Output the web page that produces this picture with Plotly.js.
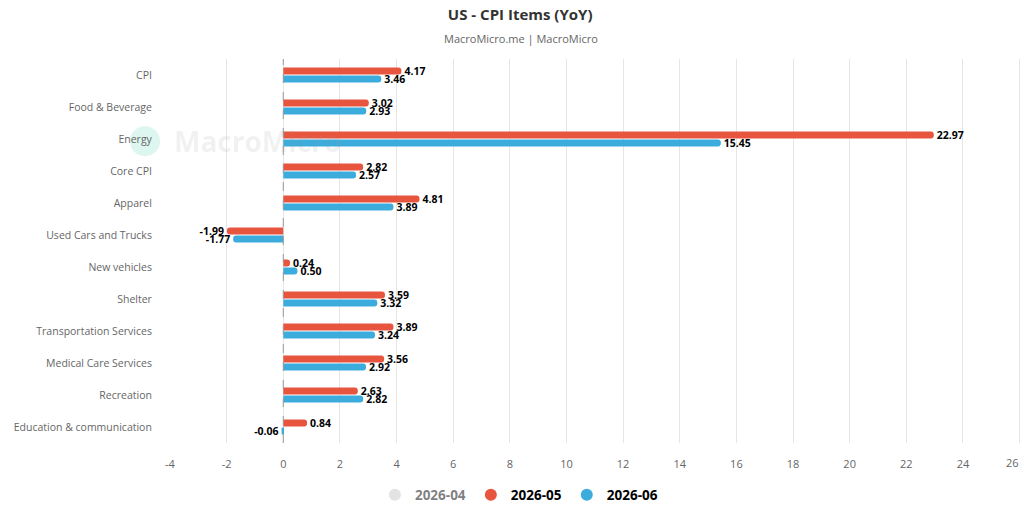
<!DOCTYPE html>
<html>
<head>
<meta charset="utf-8">
<script src="https://cdn.plot.ly/plotly-3.0.1.min.js"></script>
<style>html,body{margin:0;padding:0;background:#fff;}#chart{width:1024px;height:517px;}</style>
</head>
<body>
<div id="chart"></div>
<script>
const categories = ["CPI","Food & Beverage","Energy","Core CPI","Apparel","Used Cars and Trucks","New vehicles","Shelter","Transportation Services","Medical Care Services","Recreation","Education & communication"];
const may2026 = [4.17,3.02,22.97,2.82,4.81,-1.99,0.24,3.59,3.89,3.56,2.63,0.84];
const jun2026 = [3.46,2.93,15.45,2.57,3.89,-1.77,0.50,3.32,3.24,2.92,2.82,-0.06];
const seriesNames = ["2026-04","2026-05","2026-06"];
const xTicks = [-4,-2,0,2,4,6,8,10,12,14,16,18,20,22,24,26];
const lastTick = xTicks[xTicks.length-1];
const xTickText = xTicks.map(v => v === lastTick ? "" : String(v));

const FONT = "'Open Sans', 'Noto Sans', sans-serif";
const RED = "#e8553e", BLUE = "#3bacdc", GREY = "#c8c8c8";

function barTrace(vals, name, color){
  return {
    type:'bar', orientation:'h', y:categories, x:vals, name:name,
    marker:{color:color, cornerradius:4, line:{width:0}},
    text:vals.map(v=>v.toFixed(2)), textposition:'outside', cliponaxis:false,
    constraintext:'none',
    textfont:{family:FONT, size:10.5, color:'#000', weight:700},
    showlegend:false, hoverinfo:'x+y'
  };
}
function legendTrace(name, color, vis){
  return {type:'scatter', mode:'markers', x:[null], y:[null], name:name,
    marker:{color:color, size:15, symbol:'circle'}, visible:vis, showlegend:true};
}

const data = [
  barTrace(may2026, seriesNames[1], RED),
  barTrace(jun2026, seriesNames[2], BLUE),
  legendTrace(seriesNames[0], GREY, 'legendonly'),
  legendTrace(seriesNames[1], RED, true),
  legendTrace(seriesNames[2], BLUE, true)
];

const layout = {
  width:1024, height:517,
  margin:{l:170, r:3, t:59, b:74},
  paper_bgcolor:'#fff', plot_bgcolor:'#fff',
  font:{family:FONT, color:'#666'},
  barmode:'group', bargap:0.5, bargroupgap:0.12,
  title:{text:'<b>US - CPI Items (YoY)</b>', x:0.508, xanchor:'center', y:0.972, yanchor:'middle',
    font:{family:FONT, size:15, color:'#333'}},
  xaxis:{range:[-4,26.05], tickvals:xTicks, ticktext:xTickText, showgrid:true, gridcolor:'#e6e6e6', gridwidth:1,
    zeroline:false, showline:false, ticks:'outside', ticklen:11, tickcolor:'rgba(0,0,0,0)',
    tickfont:{family:FONT, size:11, color:'#666'}, fixedrange:true},
  yaxis:{autorange:'reversed', showgrid:false, zeroline:false, showline:false, ticks:'outside', ticklen:15, tickcolor:'rgba(0,0,0,0)',
    tickfont:{family:FONT, size:10.5, color:'#666'}, fixedrange:true},
  showlegend:true,
  legend:{orientation:'h', x:0.41, xanchor:'center', y:-0.095, yanchor:'top',
    font:{family:FONT, size:13.5, color:'#000', weight:700}, itemsizing:'constant', traceorder:'normal', itemwidth:30},
  shapes:[
    {type:'line', xref:'x', yref:'paper', x0:0, x1:0, y0:0, y1:1, line:{color:'#999', width:1, dash:'dash'}, layer:'above'},
    {type:'circle', xref:'paper', yref:'paper', x0:-0.0471, x1:-0.0118, y0:0.747, y1:0.825, fillcolor:'rgba(120,220,195,0.25)', line:{width:0}, layer:'below'}
  ],
  annotations:[
    {text:'MacroMicro.me | MacroMicro', xref:'paper', yref:'paper', x:0.412, xanchor:'center', y:1.0, yshift:21, yanchor:'middle', showarrow:false,
      font:{family:FONT, size:11, color:'#666'}},
    {text:'<b>MacroMicro</b>', xref:'paper', yref:'paper', x:0.002, xanchor:'left', y:0.786, yanchor:'middle', showarrow:false,
      font:{family:FONT, size:28, color:'rgba(150,150,150,0.13)'}},
    {text:String(lastTick), xref:'x', yref:'paper', x:lastTick, xanchor:'right', xshift:1, y:0, yshift:-19, yanchor:'middle', showarrow:false,
      font:{family:FONT, size:11, color:'#666'}}
  ]
};
Plotly.newPlot('chart', data, layout, {displayModeBar:false, responsive:false});
</script>
</body>
</html>
